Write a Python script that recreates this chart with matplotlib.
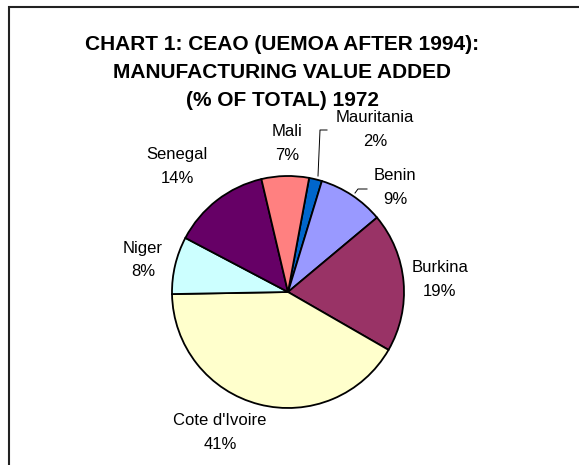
import matplotlib
matplotlib.use("Agg")
import matplotlib.pyplot as plt
from matplotlib.patches import Rectangle
from matplotlib.lines import Line2D

# data, clockwise from the top
countries = ["Mauritania", "Benin", "Burkina", "Cote d'Ivoire", "Niger", "Senegal", "Mali"]
shares = [1.8, 9.2, 19.4, 41.4, 8.0, 13.6, 6.6]
colors = ["#0066CC", "#9999FF", "#993366", "#FFFFCC", "#CCFFFF", "#660066", "#FF8080"]

# label centres in pixels (x, y of the name line)
label_pos = [(375, 117), (395, 175), (440, 268), (220, 420), (143, 248), (177, 154), (287, 131)]

W, H = 579, 465
plt.rcParams["font.family"] = ["Liberation Sans", "DejaVu Sans"]

fig = plt.figure(figsize=(W / 100, H / 100), dpi=100)

# pie centre and radius in pixels
cx, cy, r = 288, 292, 116
ax = fig.add_axes([(cx - r) / W, (H - cy - r) / H, 2 * r / W, 2 * r / H])
ax.pie(shares, colors=colors, startangle=79.5, counterclock=False,
       wedgeprops=dict(edgecolor="black", linewidth=1.3))
ax.set_xlim(-1, 1)
ax.set_ylim(-1, 1)
ax.set_aspect("equal")
ax.axis("off")

for name, val, (x, y) in zip(countries, shares, label_pos):
    fig.text(x / W, 1 - y / H, name, ha="center", va="center", fontsize=12)
    fig.text(x / W, 1 - (y + 24) / H, "%.0f%%" % val, ha="center", va="center", fontsize=12)

# leader lines (Mauritania, Benin)
def px_line(xs, ys):
    fig.add_artist(Line2D([x / W for x in xs], [1 - y / H for y in ys],
                          color="black", lw=0.7, transform=fig.transFigure))

px_line([318, 320, 327], [176, 130, 130])
px_line([355, 358, 367], [193, 189, 189])

title = "CHART 1: CEAO (UEMOA AFTER 1994):\nMANUFACTURING VALUE ADDED\n(% OF TOTAL) 1972"
fig.text(282 / W, 1 - 73 / H, title, ha="center", va="center", fontsize=15,
         fontweight="bold", linespacing=1.6)

# chart area frame, cut off on the right and bottom
fig.add_artist(Rectangle((9 / W, -0.1), 1.2, 1.1 - 7.5 / H, transform=fig.transFigure,
                         fill=False, edgecolor="#222222", lw=1.5))

fig.savefig("out.png", dpi=100)
